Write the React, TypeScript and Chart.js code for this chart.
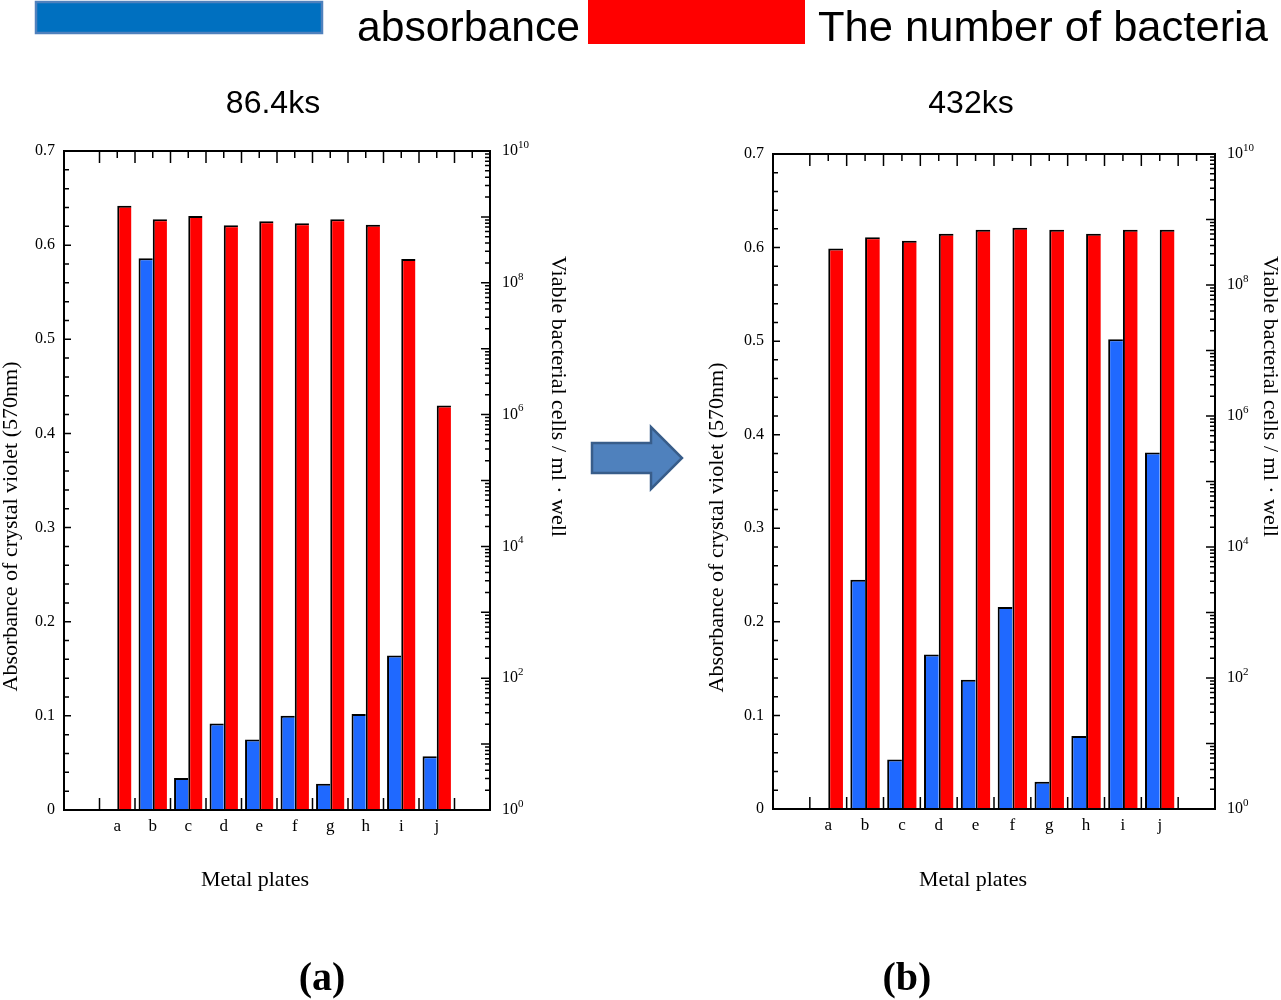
import React, { useEffect, useRef } from 'react';
import { Chart, registerables } from 'chart.js';

Chart.register(...registerables);

// ---------- data ----------
const categories = ['', 'a', 'b', 'c', 'd', 'e', 'f', 'g', 'h', 'i', 'j', ''];

// panel (a) 86.4ks
const absorbanceA = [null, null, 0.586, 0.034, 0.092, 0.075, 0.1, 0.028, 0.102, 0.164, 0.057, null];
const bacteriaA = [null, 1.48e9, 9.2e8, 1.03e9, 7.5e8, 8.6e8, 8.0e8, 9.2e8, 7.6e8, 2.3e8, 1.38e6, null];

// panel (b) 432ks
const absorbanceB = [null, null, 0.245, 0.053, 0.165, 0.138, 0.216, 0.029, 0.078, 0.502, 0.381, null];
const bacteriaB = [null, 3.6e8, 5.35e8, 4.75e8, 6.07e8, 6.98e8, 7.5e8, 6.98e8, 6.07e8, 6.98e8, 6.98e8, null];

const absorbanceTicks = [0, 0.1, 0.2, 0.3, 0.4, 0.5, 0.6, 0.7];
const decadeTicks = [1, 1e1, 1e2, 1e3, 1e4, 1e5, 1e6, 1e7, 1e8, 1e9, 1e10];
const labeledExponents = [0, 2, 4, 6, 8, 10];

const leftTitle = 'Absorbance of crystal violet (570nm)';
const rightTitle = 'Viable bacterial cells / ml \u00b7 well';
const xTitle = 'Metal plates';

// ---------- styles ----------
const SERIF = "'Liberation Serif', 'Times New Roman', serif";
const SANS = "'Liberation Sans', Arial, sans-serif";
const BLUE = '#1F69FF';
const RED = '#FF0000';

type PanelCfg = {
  left: number; top: number; width: number; height: number;
  padTop: number; leftWidth: number; rightWidth: number; xHeight: number;
  leftTitleDx: number; leftTitleDy: number;
  rightTitleDx: number; rightTitleDy: number;
  xTitleDx: number; xTitleDy: number;
};

function framePlugin(p: PanelCfg) {
  return {
    id: 'frame',
    afterDatasetsDraw(chart: any) {
      const { ctx, chartArea } = chart;
      const { left, right, top, bottom } = chartArea;
      const xs = chart.scales.x;
      const ys = chart.scales.y;
      const y2 = chart.scales.y2;
      ctx.save();
      ctx.strokeStyle = '#000';
      ctx.lineWidth = 1.5;
      ctx.beginPath();
      const n = categories.length;
      const slot = xs.getPixelForTick(1) - xs.getPixelForTick(0);
      for (let k = 1; k < n; k++) {
        const b = xs.getPixelForTick(k) - slot / 2;
        ctx.moveTo(b, bottom); ctx.lineTo(b, bottom - 12);
        ctx.moveTo(b, top); ctx.lineTo(b, top + 12);
        const c = xs.getPixelForTick(k);
        ctx.moveTo(c, top); ctx.lineTo(c, top + 7);
      }
      // left minor / major ticks
      for (let i = 0; i <= 35; i++) {
        const py = ys.getPixelForValue(i * 0.02);
        const len = i % 5 === 0 ? 7 : 5;
        ctx.moveTo(left, py); ctx.lineTo(left + len, py);
      }
      // right log ticks
      for (let d = 0; d < 10; d++) {
        for (let m = 1; m <= 9; m++) {
          const py = y2.getPixelForValue(m * Math.pow(10, d));
          const len = m === 1 ? 9 : 5;
          ctx.moveTo(right, py); ctx.lineTo(right - len, py);
        }
      }
      ctx.stroke();
      ctx.lineWidth = 2;
      ctx.strokeRect(left, top, right - left, bottom - top);
      ctx.restore();
    },
    afterDraw(chart: any) {
      const { ctx, chartArea } = chart;
      const { left, right, top, bottom } = chartArea;
      const y2 = chart.scales.y2;
      const midY = (top + bottom) / 2;
      ctx.save();
      ctx.fillStyle = '#000';
      // right axis power-of-ten labels with raised exponent
      ctx.textAlign = 'left';
      ctx.textBaseline = 'middle';
      for (const e of labeledExponents) {
        const py = y2.getPixelForValue(Math.pow(10, e));
        const x0 = right + 12;
        ctx.font = `16px ${SERIF}`;
        ctx.fillText('10', x0, py);
        const w = ctx.measureText('10').width;
        ctx.font = `11px ${SERIF}`;
        ctx.fillText(String(e), x0 + w, py - 6);
      }
      // axis titles
      ctx.font = `22px ${SERIF}`;
      ctx.textAlign = 'center';
      ctx.textBaseline = 'middle';
      ctx.save();
      ctx.translate(left - p.leftTitleDx, midY + p.leftTitleDy);
      ctx.rotate(-Math.PI / 2);
      ctx.fillText(leftTitle, 0, 0);
      ctx.restore();
      ctx.save();
      ctx.translate(right + p.rightTitleDx, midY + p.rightTitleDy);
      ctx.rotate(Math.PI / 2);
      ctx.fillText(rightTitle, 0, 0);
      ctx.restore();
      ctx.fillText(xTitle, (left + right) / 2 + p.xTitleDx, bottom + p.xTitleDy);
      ctx.restore();
    },
  };
}

function Panel({ cfg, absorbance, bacteria }: { cfg: PanelCfg; absorbance: (number | null)[]; bacteria: (number | null)[] }) {
  const ref = useRef<HTMLCanvasElement>(null);
  useEffect(() => {
    if (!ref.current) return;
    const tickFont = { family: SERIF, size: 16 };
    const barBorder = { top: 2, left: 2, right: 0, bottom: 0 };
    const chart = new Chart(ref.current, {
      type: 'bar',
      data: {
        labels: categories,
        datasets: [
          {
            label: 'absorbance',
            data: absorbance,
            yAxisID: 'y',
            backgroundColor: BLUE,
            borderColor: '#000',
            borderWidth: barBorder,
            borderSkipped: false,
            categoryPercentage: 0.8,
            barPercentage: 1,
          },
          {
            label: 'The number of bacteria',
            data: bacteria,
            yAxisID: 'y2',
            backgroundColor: RED,
            borderColor: '#000',
            borderWidth: barBorder,
            borderSkipped: false,
            categoryPercentage: 0.8,
            barPercentage: 1,
          },
        ],
      } as any,
      options: {
        responsive: false,
        animation: false,
        layout: { padding: { top: cfg.padTop, left: 0, right: 0, bottom: 0 } },
        plugins: { legend: { display: false }, tooltip: { enabled: false }, title: { display: false } },
        scales: {
          x: {
            type: 'category',
            offset: true,
            grid: { display: false, drawTicks: false },
            border: { display: false },
            ticks: { font: { family: SERIF, size: 17 }, color: '#000', padding: 6, autoSkip: false, maxRotation: 0 },
            afterFit: (s: any) => { s.height = cfg.xHeight; },
          },
          y: {
            type: 'linear',
            position: 'left',
            min: 0,
            max: 0.7,
            afterBuildTicks: (s: any) => { s.ticks = absorbanceTicks.map((v) => ({ value: v })); },
            ticks: {
              font: tickFont,
              color: '#000',
              padding: 9,
              autoSkip: false,
              callback: (v: any) => (Number(v) === 0 ? '0' : Number(v).toFixed(1)),
            },
            grid: { display: false, drawTicks: false },
            border: { display: false },
            afterFit: (s: any) => { s.width = cfg.leftWidth; },
          },
          y2: {
            type: 'logarithmic',
            position: 'right',
            min: 1,
            max: 1e10,
            afterBuildTicks: (s: any) => { s.ticks = decadeTicks.map((v) => ({ value: v })); },
            ticks: { display: false },
            grid: { display: false, drawTicks: false },
            border: { display: false },
            afterFit: (s: any) => { s.width = cfg.rightWidth; },
          },
        },
      } as any,
      plugins: [framePlugin(cfg)],
    });
    return () => chart.destroy();
  }, []);
  return (
    <canvas
      ref={ref}
      width={cfg.width}
      height={cfg.height}
      style={{ position: 'absolute', left: cfg.left, top: cfg.top, width: cfg.width, height: cfg.height }}
    />
  );
}

const panelA: PanelCfg = {
  left: 0, top: 120, width: 590, height: 790,
  padTop: 31, leftWidth: 64, rightWidth: 100, xHeight: 100,
  leftTitleDx: 53, leftTitleDy: 46, rightTitleDx: 68, rightTitleDy: -84,
  xTitleDx: -22, xTitleDy: 70,
};
const panelB: PanelCfg = {
  left: 700, top: 120, width: 581, height: 790,
  padTop: 34, leftWidth: 73, rightWidth: 66, xHeight: 101,
  leftTitleDx: 56, leftTitleDy: 46, rightTitleDx: 55, rightTitleDy: -85,
  xTitleDx: -21, xTitleDy: 71,
};

export default function App() {
  return (
    <div style={{ position: 'absolute', left: 0, top: 0, width: 1281, height: 1000, background: '#fff', overflow: 'hidden' }}>
      <Panel cfg={panelA} absorbance={absorbanceA} bacteria={bacteriaA} />
      <Panel cfg={panelB} absorbance={absorbanceB} bacteria={bacteriaB} />
      <svg width={1281} height={1000} style={{ position: 'absolute', left: 0, top: 0, pointerEvents: 'none' }}>
        <rect x={36} y={2} width={286} height={31} fill="#0070C0" stroke="#4F81BD" strokeWidth={2.5} />
        <text x={357} y={41} fontFamily={SANS} fontSize={42} textLength={223} lengthAdjust="spacingAndGlyphs" fill="#000">absorbance</text>
        <rect x={588} y={0} width={217} height={44} fill={RED} />
        <text x={818} y={41} fontFamily={SANS} fontSize={42} textLength={450} lengthAdjust="spacingAndGlyphs" fill="#000">The number of bacteria</text>
        <text x={273} y={113} fontFamily={SANS} fontSize={32} textAnchor="middle" fill="#000">86.4ks</text>
        <text x={971} y={113} fontFamily={SANS} fontSize={32} textAnchor="middle" fill="#000">432ks</text>
        <polygon points="592,443 651,443 651,427 682,458 651,489 651,473 592,473" fill="#4F81BD" stroke="#385D8A" strokeWidth={2.5} />
        <text x={322} y={990} fontFamily={SERIF} fontWeight="bold" fontSize={40} textAnchor="middle" fill="#000">(a)</text>
        <text x={907} y={990} fontFamily={SERIF} fontWeight="bold" fontSize={40} textAnchor="middle" fill="#000">(b)</text>
      </svg>
    </div>
  );
}
